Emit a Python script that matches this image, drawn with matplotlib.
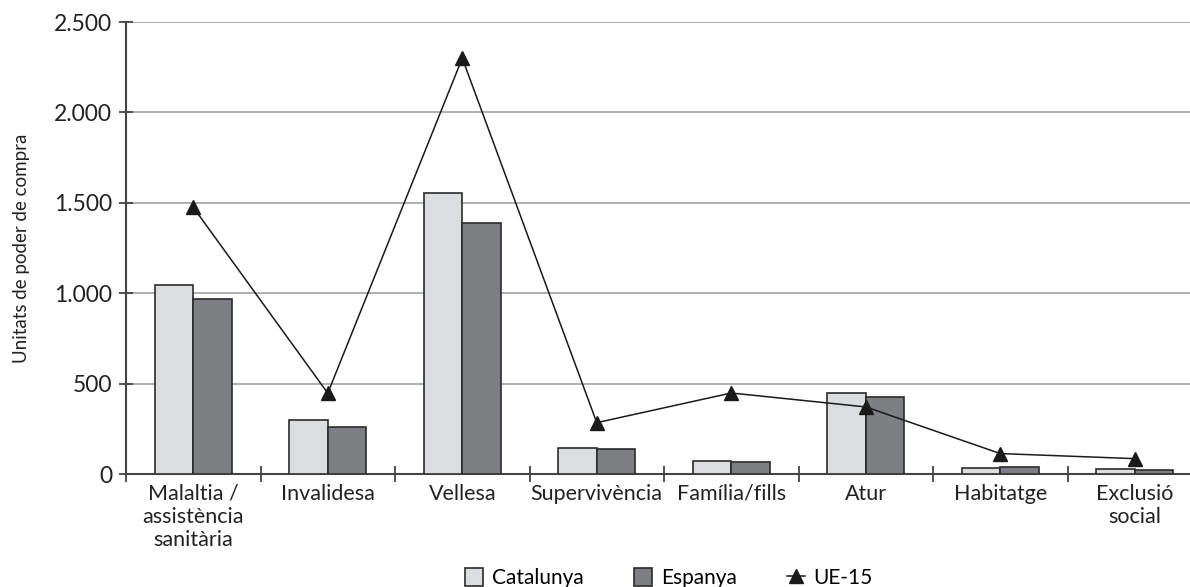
import numpy as np
import matplotlib.pyplot as plt
from matplotlib.ticker import FixedLocator, FuncFormatter

# Dades (unitats de poder de compra)
categories = ['Malaltia /\nassistència\nsanitària', 'Invalidesa', 'Vellesa', 'Supervivència',
              'Família/fills', 'Atur', 'Habitatge', 'Exclusió\nsocial']
catalunya = [1048, 301, 1553, 142, 74, 448, 31, 29]
espanya = [966, 258, 1388, 140, 67, 424, 39, 20]
ue15 = [1475, 447, 2300, 284, 448, 371, 113, 85]

plt.rcParams['font.family'] = ['Lato', 'DejaVu Sans']

fig = plt.figure(figsize=(11.9, 5.87), dpi=100)
ax = fig.add_axes([0.1059, 0.1925, 0.9042, 0.77])

x = np.arange(len(categories))
w = 0.286
b1 = ax.bar(x - w / 2, catalunya, w, color='#dcdddf', edgecolor='#2b2b2b', linewidth=1.2,
            label='Catalunya', zorder=3)
b2 = ax.bar(x + w / 2, espanya, w, color='#7e7f82', edgecolor='#2b2b2b', linewidth=1.2,
            label='Espanya', zorder=3)
l1, = ax.plot(x, ue15, color='#1a1a1a', linewidth=1.1, marker='^', markersize=10,
              markerfacecolor='#1a1a1a', label='UE-15', zorder=4)

ax.set_xlim(-0.5, len(categories) - 0.5)
ax.set_ylim(0, 2500)
ax.set_yticks(np.arange(0, 2501, 500))
ax.yaxis.set_major_formatter(FuncFormatter(lambda v, p: f'{int(v):,}'.replace(',', '.')))
ax.yaxis.grid(True, color='#a8a8a8', linewidth=1.3, zorder=0)

# ticks a les fronteres, etiquetes al centre
ax.xaxis.set_major_locator(FixedLocator(np.arange(-0.5, len(categories), 1.0)))
ax.xaxis.set_major_formatter(FuncFormatter(lambda v, p: ''))
ax.xaxis.set_minor_locator(FixedLocator(x))
ax.set_xticklabels(categories, minor=True, fontsize=15.5, color='#222222', linespacing=1.2)
ax.tick_params(axis='x', which='major', direction='inout', length=12, width=1.3, color='#444444')
ax.tick_params(axis='x', which='minor', length=0, pad=7)
ax.tick_params(axis='y', direction='inout', length=10, width=1.3, color='#444444',
               labelsize=16.5, labelcolor='#222222', pad=5)

for s in ['top', 'right']:
    ax.spines[s].set_visible(False)
for s in ['left', 'bottom']:
    ax.spines[s].set_color('#444444')
    ax.spines[s].set_linewidth(1.5)

ax.set_ylabel('Unitats de poder de compra', fontsize=13.5, color='#222222')
ax.yaxis.set_label_coords(-0.089, 0.5)

fig.legend([b1, b2, l1], ['Catalunya', 'Espanya', 'UE-15'], loc='lower center',
           bbox_to_anchor=(0.562, -0.034), ncol=3, frameon=False,
           fontsize=15, handlelength=0.9, handleheight=0.9, handletextpad=0.4,
           columnspacing=2.4)

fig.savefig('out.png', dpi=100)
